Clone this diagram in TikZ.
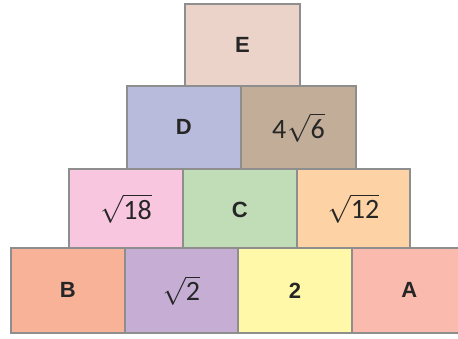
\RequirePackage{fix-cm}
\documentclass[tikz,border=0pt]{standalone}
\usepackage{fontspec}
\setmainfont{Liberation Sans}
\newfontfamily\numfont{Carlito}
\definecolor{cellgray}{HTML}{8E8E8E}
\definecolor{cE}{HTML}{EBD3C9}
\definecolor{cD}{HTML}{B9BBDC}
\definecolor{cF}{HTML}{C2AD99}
\definecolor{cG}{HTML}{F8C7DF}
\definecolor{cC}{HTML}{C0DDB7}
\definecolor{cH}{HTML}{FDD2A4}
\definecolor{cB}{HTML}{F8B298}
\definecolor{cI}{HTML}{C5ADD4}
\definecolor{cJ}{HTML}{FFF8A8}
\definecolor{cA}{HTML}{FABAAE}
\tikzset{
  cell/.style={draw=cellgray, line width=1.8pt, anchor=north west, inner sep=0pt,
    minimum width=#1, text=black!85},
  letter/.style={font=\fontsize{22}{22}\selectfont\bfseries},
  number/.style={font=\fontsize{28}{28}\selectfont\numfont},
}
\begin{document}
\begin{tikzpicture}[x=1pt,y=-1pt]
\useasboundingbox (0,0) rectangle (458,339);
\clip (0,0) rectangle (458,339);
% row 1
\node[cell=115pt, minimum height=82pt, fill=cE, letter] (E) at (184,3) {E};
% row 2
\node[cell=114pt, minimum height=83pt, fill=cD, letter] (D) at (126,85) {D};
\node[cell=115pt, minimum height=83pt, fill=cF, number] (F) at (240,85) {4\kern1pt$\sqrt{\mbox{\numfont 6}}$};
% row 3
\node[cell=114pt, minimum height=79pt, fill=cG, number] (G) at (68,168) {$\sqrt{\mbox{\numfont 18}}$};
\node[cell=114pt, minimum height=79pt, fill=cC, letter, text height=19pt] (C) at (182,168) {C};
\node[cell=113pt, minimum height=79pt, fill=cH, number] (H) at (296,168) {$\sqrt{\mbox{\numfont 12}}$};
% row 4
\node[cell=114pt, minimum height=85pt, fill=cB, letter] (B) at (10,247) {B};
\node[cell=113pt, minimum height=85pt, fill=cI, number] (I) at (124,247) {$\sqrt{\mbox{\numfont 2}}$};
\node[cell=114pt, minimum height=85pt, fill=cJ, letter] (J) at (237,247) {2};
\node[cell=115pt, minimum height=85pt, fill=cA, letter] (A) at (351,247) {A};
\end{tikzpicture}
\end{document}
